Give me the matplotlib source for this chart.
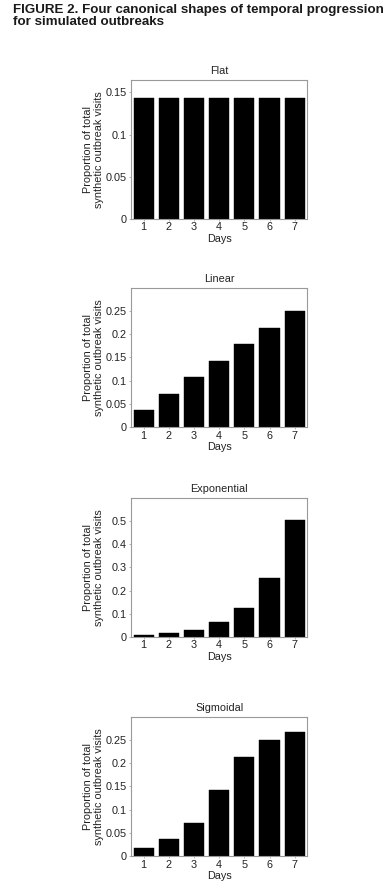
import matplotlib
matplotlib.use("Agg")
import matplotlib.pyplot as plt

plt.rcParams['font.family'] = ['Liberation Sans', 'DejaVu Sans']

days = [1, 2, 3, 4, 5, 6, 7]
flat = [1/7] * 7
linear = [1/28, 2/28, 3/28, 4/28, 5/28, 6/28, 7/28]
exponential = [1/127, 2/127, 4/127, 8/127, 16/127, 32/127, 64/127]
sigmoidal = [1/56, 2/56, 4/56, 8/56, 12/56, 14/56, 15/56]

panels = [
    ("Flat", flat, 0.165, [0, 0.05, 0.1, 0.15], ["0", "0.05", "0.1", "0.15"]),
    ("Linear", linear, 0.3, [0, 0.05, 0.1, 0.15, 0.2, 0.25],
     ["0", "0.05", "0.1", "0.15", "0.2", "0.25"]),
    ("Exponential", exponential, 0.6, [0, 0.1, 0.2, 0.3, 0.4, 0.5],
     ["0", "0.1", "0.2", "0.3", "0.4", "0.5"]),
    ("Sigmoidal", sigmoidal, 0.3, [0, 0.05, 0.1, 0.15, 0.2, 0.25],
     ["0", "0.05", "0.1", "0.15", "0.2", "0.25"]),
]

bottoms = [0.7548, 0.5218, 0.2867, 0.0414]

fig = plt.figure(figsize=(3.88, 8.93), dpi=100)
fig.text(13 / 388, 1 - 4 / 893,
         "FIGURE 2. Four canonical shapes of temporal progression\nfor simulated outbreaks",
         ha="left", va="top", fontsize=9.6, fontweight="bold", color="#1a1a1a",
         linespacing=1.0)

frame = "#999999"
txt = "#222222"
fs = 7.8
for (name, vals, top, ticks, labels), b in zip(panels, bottoms):
    ax = fig.add_axes([0.3376, b, 0.4544, 0.156])
    ax.bar(days, vals, width=0.8, color="black", edgecolor="black", linewidth=0.3)
    ax.set_xlim(0.5, 7.5)
    ax.set_ylim(0, top)
    ax.set_xticks(days)
    ax.set_yticks(ticks)
    ax.set_yticklabels(labels)
    ax.tick_params(direction="out", length=1.5, width=0.5, color=frame,
                   labelsize=fs, labelcolor=txt, pad=1.5)
    ax.tick_params(axis="x", pad=1)
    for s in ax.spines.values():
        s.set_color(frame)
        s.set_linewidth(0.8)
    ax.set_title(name, fontsize=fs, pad=4, color=txt)
    ax.set_xlabel("Days", fontsize=fs, labelpad=1, color=txt)
    ax.set_ylabel("Proportion of total\nsynthetic outbreak visits", fontsize=fs,
                  linespacing=1.05, color=txt)
    ax.yaxis.set_label_coords(-0.155, 0.5)

fig.savefig("out.png", dpi=100)
